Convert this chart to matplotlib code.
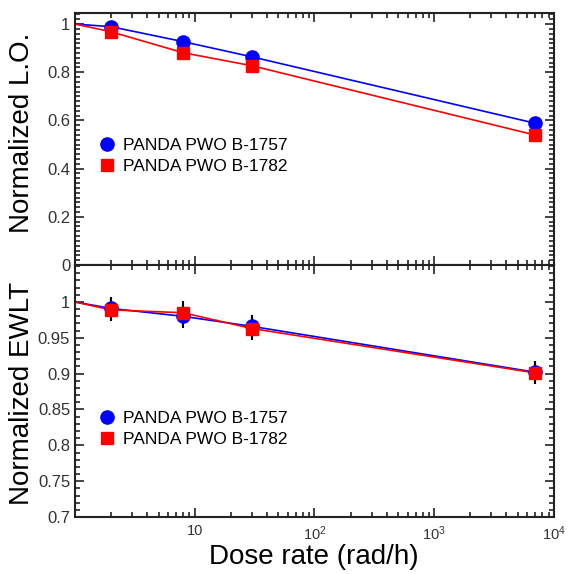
import numpy as np
import matplotlib
matplotlib.use("Agg")
import matplotlib.pyplot as plt
from matplotlib.ticker import MultipleLocator, LogLocator, FixedLocator, FuncFormatter, NullFormatter
from matplotlib.lines import Line2D

plt.rcParams['font.family'] = ['Liberation Sans', 'DejaVu Sans']
plt.rcParams['mathtext.fontset'] = 'custom'
plt.rcParams['mathtext.rm'] = 'Liberation Sans'
plt.rcParams['mathtext.it'] = 'Liberation Sans:italic'

# dose rates (rad/h)
rate = [2, 8, 30, 7000]
# line starts at reference point (1 rad/h, normalized 1)
line_rate = [1, 2, 8, 30, 7000]

# normalized light output
lo_1757 = [0.989, 0.927, 0.864, 0.588]
lo_1782 = [0.968, 0.881, 0.827, 0.539]

# normalized EWLT
ewlt_1757 = [0.991, 0.980, 0.966, 0.902]
ewlt_1782 = [0.989, 0.985, 0.963, 0.901]
ewlt_err = [0.016, 0.016, 0.016, 0.016]

names = ["PANDA PWO B-1757", "PANDA PWO B-1782"]

fig = plt.figure(figsize=(5.7, 5.74), dpi=100)
ax1 = fig.add_axes([0.1316, 0.5383, 0.8403, 0.4391])
ax2 = fig.add_axes([0.1316, 0.0993, 0.8403, 0.4390], sharex=ax1)

# top panel
ax1.plot(line_rate, [1.0] + lo_1757, color='blue', lw=1.2)
ax1.plot(line_rate, [1.0] + lo_1782, color='red', lw=1.2)
ax1.plot(rate, lo_1757, 'o', color='blue', ms=9.5)
ax1.plot(rate, lo_1782, 's', color='red', ms=9)

# bottom panel
ax2.plot(line_rate, [1.0] + ewlt_1757, color='blue', lw=1.2)
ax2.plot(line_rate, [1.0] + ewlt_1782, color='red', lw=1.2)
ax2.errorbar(rate, ewlt_1757, yerr=ewlt_err, fmt='o', color='blue', ms=9.5,
             ecolor='black', elinewidth=1.5, capsize=0)
ax2.errorbar(rate, ewlt_1782, yerr=ewlt_err, fmt='s', color='red', ms=9,
             ecolor='black', elinewidth=1.5, capsize=0)

def ytick_fmt(v, pos):
    s = ('%.2f' % v).rstrip('0').rstrip('.')
    return s

def xtick_fmt(v, pos):
    e = int(round(np.log10(v)))
    if e == 0:
        return ''
    if e == 1:
        return '10'
    return r'$10^{%d}$' % e

for ax in (ax1, ax2):
    ax.set_xscale('log')
    ax.set_xlim(1, 1e4)
    ax.xaxis.set_major_locator(FixedLocator([1, 10, 100, 1000, 10000]))
    ax.xaxis.set_minor_locator(LogLocator(base=10, subs=np.arange(2, 10), numticks=20))
    ax.xaxis.set_minor_formatter(NullFormatter())
    ax.tick_params(which='both', direction='in', top=True, right=True, width=1.2, colors='#222222')
    ax.tick_params(which='major', length=6.5)
    ax.tick_params(which='minor', length=3.4)
    for sp in ax.spines.values():
        sp.set_linewidth(1.5)
        sp.set_color('#222222')
    ax.yaxis.set_major_formatter(FuncFormatter(ytick_fmt))
    ax.tick_params(axis='y', labelsize=12, labelcolor='#333333')

ax1.set_ylim(0, 1.046)
ax1.yaxis.set_major_locator(FixedLocator([0, 0.2, 0.4, 0.6, 0.8, 1.0]))
ax1.yaxis.set_minor_locator(MultipleLocator(0.02))
ax1.tick_params(axis='x', labelbottom=False)

ax2.set_ylim(0.7, 1.0516)
ax2.yaxis.set_major_locator(FixedLocator([0.7, 0.75, 0.8, 0.85, 0.9, 0.95, 1.0]))
ax2.yaxis.set_minor_locator(MultipleLocator(0.01))
ax2.xaxis.set_major_formatter(FuncFormatter(xtick_fmt))
ax2.tick_params(axis='x', labelsize=10.5, labelcolor='#333333', pad=5)

handles = [Line2D([], [], marker='o', color='blue', ls='none', ms=9.5),
           Line2D([], [], marker='s', color='red', ls='none', ms=9)]
for ax, y0 in ((ax1, 0.533), (ax2, 0.448)):
    ax.legend(handles, names, loc='upper left', bbox_to_anchor=(0.035, y0),
              frameon=False, fontsize=12.5, handlelength=1.0, handletextpad=0.4,
              labelspacing=0.35, borderaxespad=0)

fig.text(0.038, 0.768, "Normalized L.O.", rotation=90, ha='center', va='center', fontsize=20)
fig.text(0.038, 0.315, "Normalized EWLT", rotation=90, ha='center', va='center', fontsize=20)
fig.text(0.551, 0.029, "Dose rate (rad/h)", ha='center', va='center', fontsize=20)

fig.savefig("out.png", dpi=100)
